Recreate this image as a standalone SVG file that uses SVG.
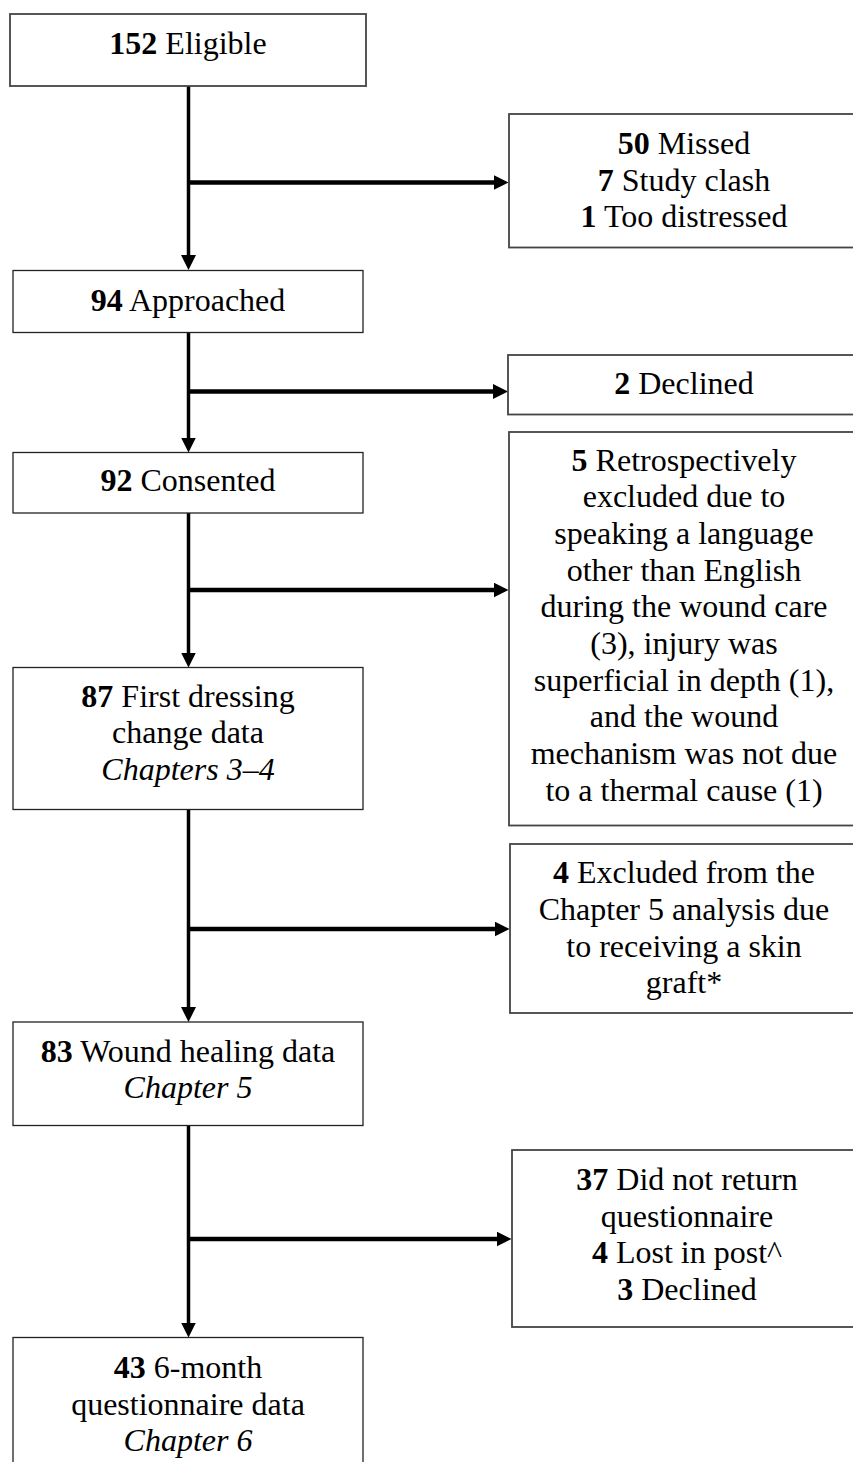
<svg xmlns="http://www.w3.org/2000/svg" width="853" height="1462" viewBox="0 0 853 1462">
<style>
.bg{fill:#fff}
.box{fill:#fff;stroke:#444;stroke-width:1.8}
.boxl{fill:#fff;stroke:#222;stroke-width:1.3}
text{font-family:"Liberation Serif","Times New Roman",serif;font-size:32px;fill:#000;text-anchor:middle}
.b{font-weight:bold}
.i{font-style:italic}
.v{stroke:#000;stroke-width:3.5;fill:none}
.h{stroke:#000;stroke-width:4.5;fill:none}
</style>
<defs>
<marker id="arr" markerUnits="userSpaceOnUse" markerWidth="15" markerHeight="15" refX="5" refY="7.5" orient="auto">
<path d="M0,0 L15,7.5 L0,15 z" fill="#000"/>
</marker>
</defs>
<rect class="bg" x="0" y="0" width="853" height="1462"/>
<g id="connectors">
<line class="v" x1="188.5" y1="86" x2="188.5" y2="260" marker-end="url(#arr)"/>
<line class="h" x1="188.5" y1="182.5" x2="498.5" y2="182.5" marker-end="url(#arr)"/>
<line class="v" x1="188.5" y1="332.5" x2="188.5" y2="442.5" marker-end="url(#arr)"/>
<line class="h" x1="188.5" y1="391.5" x2="498" y2="391.5" marker-end="url(#arr)"/>
<line class="v" x1="188.5" y1="513" x2="188.5" y2="657.5" marker-end="url(#arr)"/>
<line class="h" x1="188.5" y1="590" x2="498.5" y2="590" marker-end="url(#arr)"/>
<line class="v" x1="188.5" y1="809.5" x2="188.5" y2="1012" marker-end="url(#arr)"/>
<line class="h" x1="188.5" y1="929" x2="499.5" y2="929" marker-end="url(#arr)"/>
<line class="v" x1="188.5" y1="1125.5" x2="188.5" y2="1327.5" marker-end="url(#arr)"/>
<line class="h" x1="188.5" y1="1239" x2="501.5" y2="1239" marker-end="url(#arr)"/>
</g>
<g id="n-eligible">
<rect class="box" x="10" y="14" width="356" height="72"/>
<text x="188" y="54"><tspan class="b">152</tspan> Eligible</text>
</g>
<g id="n-approached">
<rect class="boxl" x="13" y="270.5" width="350" height="62"/>
<text x="188" y="310.5"><tspan class="b">94</tspan> Approached</text>
</g>
<g id="n-consented">
<rect class="boxl" x="13" y="452.5" width="350" height="60.5"/>
<text x="188" y="491"><tspan class="b">92</tspan> Consented</text>
</g>
<g id="n-first-dressing">
<rect class="boxl" x="13" y="667.5" width="350" height="142"/>
<text x="188" y="706.7"><tspan class="b">87</tspan> First dressing</text>
<text x="188" y="743.3">change data</text>
<text x="188" y="780" class="i">Chapters 3–4</text>
</g>
<g id="n-wound-healing">
<rect class="boxl" x="13" y="1022" width="350" height="103.5"/>
<text x="188" y="1061.7"><tspan class="b">83</tspan> Wound healing data</text>
<text x="188" y="1098.3" class="i">Chapter 5</text>
</g>
<g id="n-questionnaire">
<rect class="boxl" x="13" y="1337.5" width="350" height="140"/>
<text x="188" y="1378"><tspan class="b">43</tspan> 6-month</text>
<text x="188" y="1414.7">questionnaire data</text>
<text x="188" y="1451.3" class="i">Chapter 6</text>
</g>
<g id="r-missed">
<rect class="box" x="509" y="114" width="350" height="133.5"/>
<text x="684" y="154"><tspan class="b">50</tspan> Missed</text>
<text x="684" y="190.7"><tspan class="b">7</tspan> Study clash</text>
<text x="684" y="227.3"><tspan class="b">1</tspan> Too distressed</text>
</g>
<g id="r-declined">
<rect class="box" x="508" y="355" width="351" height="59.5"/>
<text x="684" y="394"><tspan class="b">2</tspan> Declined</text>
</g>
<g id="r-retro">
<rect class="box" x="509" y="432" width="350" height="393.5"/>
<text x="684" y="470.7"><tspan class="b">5</tspan> Retrospectively</text>
<text x="684" y="507.4">excluded due to</text>
<text x="684" y="544">speaking a language</text>
<text x="684" y="580.7">other than English</text>
<text x="684" y="617.4">during the wound care</text>
<text x="684" y="654">(3), injury was</text>
<text x="684" y="690.7">superficial in depth (1),</text>
<text x="684" y="727.4">and the wound</text>
<text x="684" y="764">mechanism was not due</text>
<text x="684" y="800.7">to a thermal cause (1)</text>
</g>
<g id="r-excluded">
<rect class="box" x="510" y="844" width="349" height="169"/>
<text x="684" y="883.3"><tspan class="b">4</tspan> Excluded from the</text>
<text x="684" y="920">Chapter 5 analysis due</text>
<text x="684" y="956.7">to receiving a skin</text>
<text x="684" y="993.3">graft*</text>
</g>
<g id="r-not-returned">
<rect class="box" x="512" y="1150" width="347" height="177"/>
<text x="687" y="1190"><tspan class="b">37</tspan> Did not return</text>
<text x="687" y="1226.5">questionnaire</text>
<text x="687" y="1263"><tspan class="b">4</tspan> Lost in post^</text>
<text x="687" y="1299.5"><tspan class="b">3</tspan> Declined</text>
</g>
</svg>
